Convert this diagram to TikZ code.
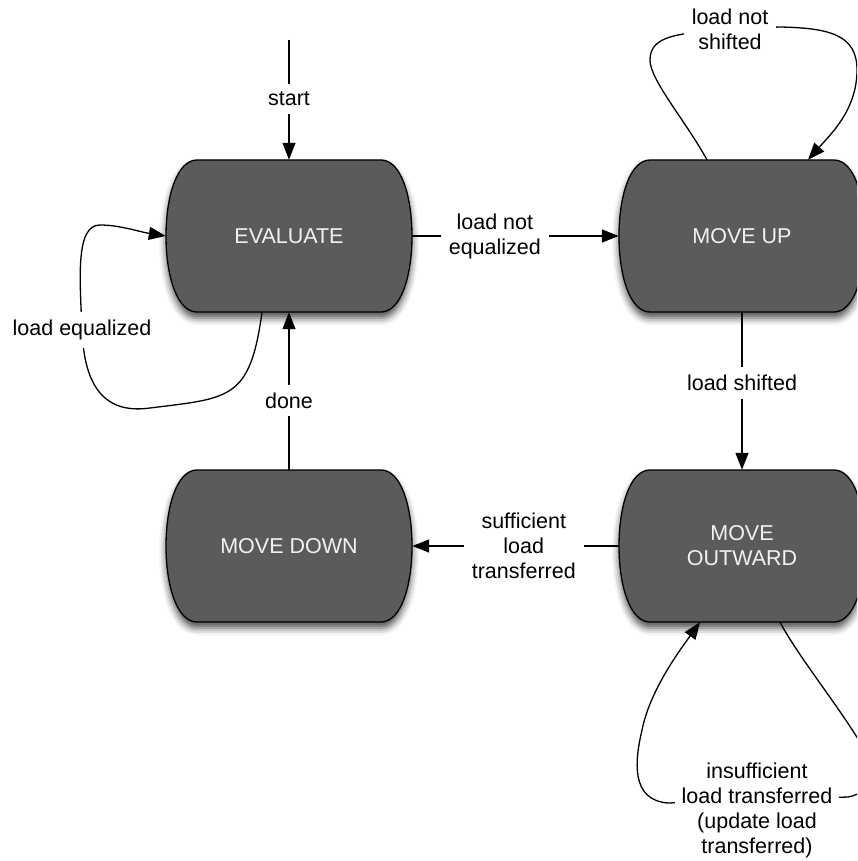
\documentclass[tikz,border=0pt]{standalone}
\usepackage{fontspec}
\setmainfont{Liberation Sans}
\usetikzlibrary{arrows.meta,shadows.blur}
\definecolor{boxgray}{HTML}{5B5B5B}
\definecolor{boxtext}{HTML}{F2F2F2}
\tikzset{
 stateshape/.style={draw=black, line width=1.3pt, fill=boxgray, blur shadow={shadow xshift=0pt, shadow yshift=-6pt, shadow blur radius=7pt, shadow opacity=70}},
 statenode/.style={minimum width=246pt, minimum height=152pt, inner sep=0pt, text=boxtext, align=center, font=\fontsize{21.5}{25}\selectfont},
 arr/.style={line width=1.3pt, -{Triangle[length=17pt,width=13pt]}},
 lbl/.style={fill=white, inner sep=8pt, align=center, font=\fontsize{21.5}{25}\selectfont},
}
\newcommand\mkstate[4]{%
 \begin{scope}[shift={(#2,#3)}]
 \draw[stateshape] (-92,-76) -- (92,-76) .. controls (112,-76) and (123,-40) .. (123,0) .. controls (123,40) and (112,76) .. (92,76) -- (-92,76) .. controls (-112,76) and (-123,40) .. (-123,0) .. controls (-123,-40) and (-112,-76) .. (-92,-76) -- cycle;
 \node[statenode] (#1) at (0,0) {#4};
 \end{scope}}
\begin{document}
\begin{tikzpicture}[x=1pt,y=-1pt]
\clip (0,0) rectangle (857,861);
\mkstate{eval}{289}{236}{EVALUATE}
\mkstate{up}{742}{236}{MOVE UP}
\mkstate{down}{289}{546}{MOVE DOWN}
\mkstate{out}{742}{546}{MOVE\\OUTWARD}

\coordinate (s0) at (289,40);
\draw[arr] (s0) -- node[lbl,pos=0.49]{start} (eval.north);
\draw[arr] (eval.east) -- node[lbl,pos=0.4]{load not\\equalized} (up.west);
\draw[arr] (up.south) -- node[lbl,pos=0.45]{load shifted} (out.north);
\draw[arr] (out.west) -- node[lbl,pos=0.46]{sufficient\\load\\transferred} (down.east);
\draw[arr] (down.north) -- node[lbl,pos=0.44]{done} (eval.south);

% load equalized loop
\draw[arr] ([xshift=-27pt]eval.south) .. controls (250,400) and (230,398) .. (150,408)
  .. controls (100,415) and (84,380) .. (82,330) node[lbl]{load equalized}
  .. controls (80,280) and (75,225) .. (100,225)
  .. controls (120,225) and (140,232) .. (eval.west);

% load not shifted loop
\draw[arr] ([xshift=-35pt]up.north) .. controls (685,120) and (650,80) .. (650,60)
  .. controls (650,42) and (665,35) .. (700,32) -- (730,29) node[lbl]{load not\\shifted}
  -- (780,27) .. controls (830,28) and (857,35) .. (857,70)
  .. controls (857,110) and (830,135) .. ([xshift=66pt]up.north);

% insufficient loop
\draw[arr] ([xshift=38pt]out.south) .. controls (800,660) and (850,720) .. (870,760)
  .. controls (880,785) and (860,795) .. (848,797) -- (757,800)
  -- (668,803) .. controls (630,800) and (635,760) .. (642,730)
  .. controls (650,690) and (680,650) .. ([xshift=-42pt]out.south);
\node[lbl, inner xsep=7pt, inner ysep=3pt] (ins) at (757,810) {insufficient\\load transferred\\(update load\\transferred)};
\end{tikzpicture}
\end{document}
